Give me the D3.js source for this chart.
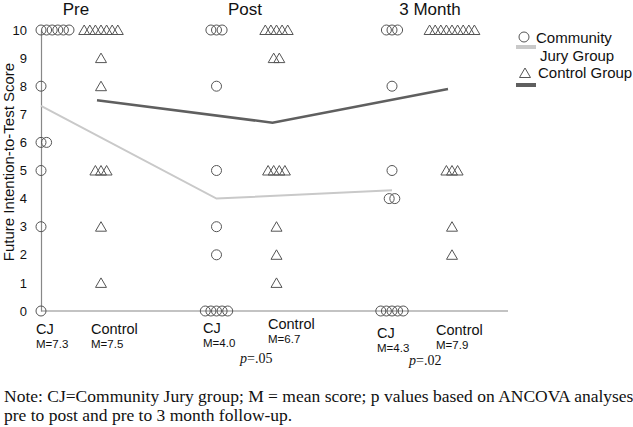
<!DOCTYPE html>
<html>
<head>
<meta charset="utf-8">
<script src="https://cdn.jsdelivr.net/npm/d3@7/dist/d3.min.js"></script>
<style>
  html, body { margin: 0; padding: 0; background: #fff; }
  svg { display: block; }
  text { font-family: "Liberation Sans", Arial, sans-serif; fill: #111; }
  .serif { font-family: "Liberation Serif", "Times New Roman", serif; }
</style>
</head>
<body>
<svg id="chart" width="633" height="427"></svg>
<script>
// ---------------- DATA ----------------
const timepoints = ["Pre", "Post", "3 Month"];
const groups = ["CJ", "Control"];
const legendLabels = [["Community", "Jury Group"], ["Control Group"]];
const yTickValues = [0, 1, 2, 3, 4, 5, 6, 7, 8, 9, 10];

// individual scores per column
const preCJ       = [10, 10, 10, 10, 10, 10, 8, 6, 6, 5, 3, 0];
const preControl  = [10, 10, 10, 10, 10, 10, 10, 9, 8, 5, 5, 5, 3, 1];
const postCJ      = [10, 10, 10, 8, 5, 3, 2, 0, 0, 0, 0, 0];
const postControl = [10, 10, 10, 10, 10, 9, 9, 5, 5, 5, 5, 3, 2, 1];
const m3CJ        = [10, 10, 10, 8, 5, 4, 4, 0, 0, 0, 0, 0];
const m3Control   = [10, 10, 10, 10, 10, 10, 10, 10, 10, 5, 5, 5, 3, 2];

// group means
const meansCJ      = [7.3, 4.0, 4.3];
const meansControl = [7.5, 6.7, 7.9];
const meanLabels   = ["M=7.3", "M=7.5", "M=4.0", "M=6.7", "M=4.3", "M=7.9"];
const pValues      = [null, ".05", ".02"];

// ---------------- LAYOUT ----------------
const svg = d3.select("#chart");
const y = d3.scaleLinear().domain([0, 10]).range([311, 30]);
const xt = d3.scaleLinear().domain([0, 2]).range([41, 392]);
const groupOffset = { CJ: 0, Control: 60 };
const lineOffset = 56;
const step = 5.6;
const axisRight = 508;
const markerColor = "#555";

const columns = [
  { t: 0, g: "CJ", scores: preCJ, align: "start" },
  { t: 0, g: "Control", scores: preControl, align: "center" },
  { t: 1, g: "CJ", scores: postCJ, align: "center" },
  { t: 1, g: "Control", scores: postControl, align: "center" },
  { t: 2, g: "CJ", scores: m3CJ, align: "center" },
  { t: 2, g: "Control", scores: m3Control, align: "center" }
];

// axes
const yAxis = d3.axisLeft(y).tickValues(yTickValues).tickSize(0).tickSizeOuter(0).tickPadding(14);
const gy = svg.append("g").attr("transform", `translate(${xt(0)},0)`).call(yAxis);
gy.select(".domain").attr("stroke", "#888").attr("stroke-width", 1.2);
gy.selectAll("text").attr("font-size", 13).attr("font-family", "Liberation Sans, Arial, sans-serif").attr("fill", "#111");

svg.append("line")
  .attr("x1", xt(0)).attr("x2", axisRight)
  .attr("y1", y(0)).attr("y2", y(0))
  .attr("stroke", "#888").attr("stroke-width", 1.2);

// y title
svg.append("text")
  .attr("transform", `translate(14,162) rotate(-90)`)
  .attr("text-anchor", "middle")
  .attr("font-size", 15)
  .text("Future Intention-to-Test Score");

// timepoint titles
const titleX = [76, 245, 430];
svg.selectAll(".ttl").data(timepoints).join("text")
  .attr("class", "ttl")
  .attr("x", (d, i) => titleX[i])
  .attr("y", 15)
  .attr("text-anchor", "middle")
  .attr("font-size", 17)
  .text(d => d);

// mean lines
const lineGen = d3.line().x(d => d[0]).y(d => y(d[1]));
svg.append("path")
  .attr("d", lineGen(meansCJ.map((m, i) => [xt(i), m])))
  .attr("fill", "none").attr("stroke", "#c9c9c9").attr("stroke-width", 2);
svg.append("path")
  .attr("d", lineGen(meansControl.map((m, i) => [xt(i) + lineOffset, m])))
  .attr("fill", "none").attr("stroke", "#5f5f5f").attr("stroke-width", 2.5);

// markers
function triPath(cx, cy) {
  return `M${cx - 5.5},${cy + 4.5}L${cx},${cy - 5}L${cx + 5.5},${cy + 4.5}Z`;
}
columns.forEach(col => {
  const x0 = xt(col.t) + groupOffset[col.g];
  const counts = d3.rollups(col.scores, v => v.length, d => d);
  const pts = [];
  counts.forEach(([val, n]) => {
    for (let i = 0; i < n; i++) {
      const cx = col.align === "start" ? x0 + i * step : x0 + (i - (n - 1) / 2) * step;
      pts.push([cx, y(val)]);
    }
  });
  const g = svg.append("g");
  if (col.g === "CJ") {
    g.selectAll("circle").data(pts).join("circle")
      .attr("cx", d => d[0]).attr("cy", d => d[1]).attr("r", 5)
      .attr("fill", "none").attr("stroke", markerColor).attr("stroke-width", 1);
  } else {
    g.selectAll("path").data(pts).join("path")
      .attr("d", d => triPath(d[0], d[1]))
      .attr("fill", "none").attr("stroke", markerColor).attr("stroke-width", 1);
  }
});

// bottom labels
const labelPos = [[36, 334], [91, 334], [203, 333], [268, 329], [377, 338], [436, 335]];
columns.forEach((col, i) => {
  const [lx, ly] = labelPos[i];
  svg.append("text").attr("x", lx).attr("y", ly).attr("font-size", 14.5).text(col.g);
  svg.append("text").attr("x", lx).attr("y", ly + 14).attr("font-size", 11.5).text(meanLabels[i]);
});

// p values
const pPos = [null, [240, 363], [409, 365]];
pValues.forEach((p, i) => {
  if (!p) return;
  const t = svg.append("text").attr("class", "serif").attr("x", pPos[i][0]).attr("y", pPos[i][1]).attr("font-size", 14);
  t.append("tspan").attr("font-style", "italic").text("p");
  t.append("tspan").text("=" + p);
});

// legend
svg.append("circle").attr("cx", 524).attr("cy", 37).attr("r", 5)
  .attr("fill", "none").attr("stroke", markerColor).attr("stroke-width", 1);
svg.append("rect").attr("x", 516).attr("y", 45).attr("width", 20).attr("height", 4).attr("fill", "#c9c9c9");
svg.append("text").attr("x", 536).attr("y", 43).attr("font-size", 15).text(legendLabels[0][0]);
svg.append("text").attr("x", 540).attr("y", 61).attr("font-size", 15).text(legendLabels[0][1]);
svg.append("path").attr("d", triPath(525, 73))
  .attr("fill", "none").attr("stroke", markerColor).attr("stroke-width", 1);
svg.append("rect").attr("x", 516).attr("y", 83).attr("width", 20).attr("height", 4).attr("fill", "#5f5f5f");
svg.append("text").attr("x", 538).attr("y", 78).attr("font-size", 15).text(legendLabels[1][0]);

// note
const note = [
  "Note: CJ=Community Jury group; M = mean score; p values based on ANCOVA analyses",
  "pre to post and pre to 3 month follow-up."
];
svg.selectAll(".note").data(note).join("text")
  .attr("class", "note serif")
  .attr("x", 4)
  .attr("y", (d, i) => 402 + i * 19)
  .attr("font-size", 17.5)
  .text(d => d);
</script>
</body>
</html>
